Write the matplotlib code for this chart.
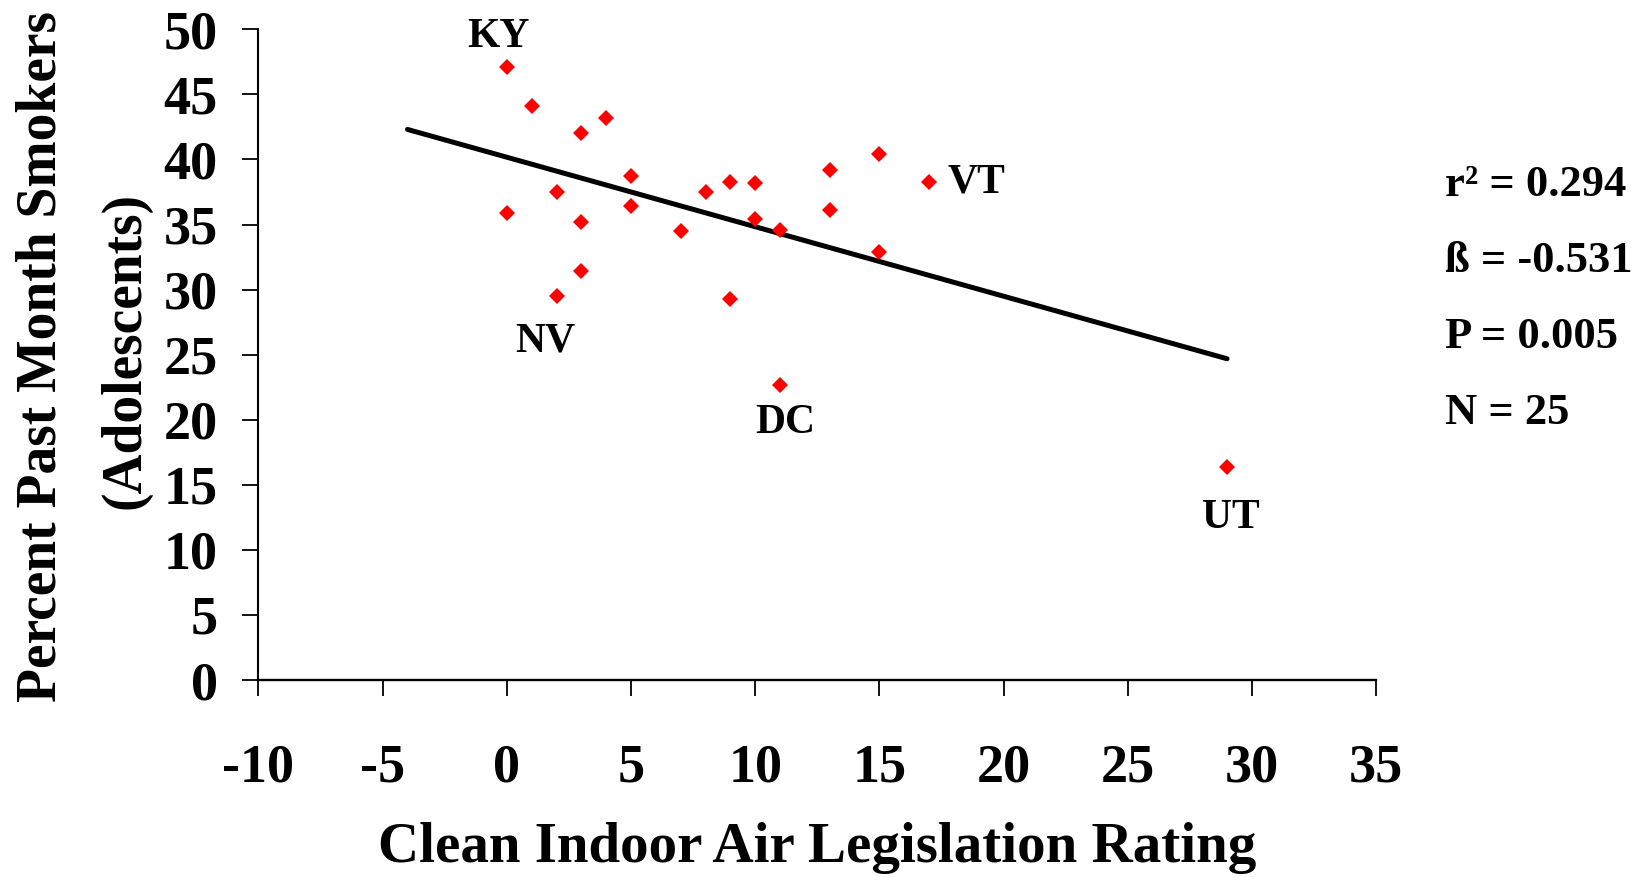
import numpy as np
import matplotlib
matplotlib.use("Agg")
import matplotlib.pyplot as plt

plt.rcParams['font.family'] = ['Liberation Serif', 'DejaVu Serif']
plt.rcParams['font.weight'] = 'bold'
plt.rcParams['axes.unicode_minus'] = False

# clean indoor air legislation rating (x) vs percent past month smokers (y)
rating = [0, 0, 1, 2, 2, 3, 3, 3, 4, 5, 5, 7, 8, 9, 9, 10, 10, 11, 11, 13, 13, 15, 15, 17, 29]
smokers = [47.1, 35.9, 44.1, 37.5, 29.5, 42.0, 35.2, 31.4, 43.2, 38.7, 36.4, 34.5, 37.5,
           38.3, 29.3, 38.2, 35.4, 34.6, 22.7, 39.2, 36.1, 40.4, 32.9, 38.3, 16.4]

# labelled states: index into the arrays above
state_names = ['KY', 'NV', 'VT', 'DC', 'UT']
state_idx = [0, 4, 23, 18, 24]
state_offsets = [(-8, 30), (-11, -45), (47, -1), (5, -38), (4, -51)]  # pixels

stats_lines = ['r² = 0.294', 'ß = -0.531', 'P = 0.005', 'N = 25']
ylabel_lines = ['Percent Past Month Smokers', '(Adolescents)']

x = np.array(rating, dtype=float)
y = np.array(smokers)
slope, intercept = np.polyfit(x, y, 1)
fit_x = np.array([-4, 29])
fit_y = slope * fit_x + intercept

W, H = 1637, 877
fig = plt.figure(figsize=(W / 100, H / 100), dpi=100)
ax = fig.add_axes([0.1579, 0.2246, 0.8406 - 0.1579, 0.9666 - 0.2246])

ax.plot(fit_x, fit_y, color='black', lw=3.6, solid_capstyle='round', zorder=2)
ax.plot(x, y, linestyle='none', marker='D', ms=7.8, mew=0, color='#ff0000', zorder=3)

for name, i, off in zip(state_names, state_idx, state_offsets):
    ax.annotate(name, (x[i], y[i]), xytext=off, textcoords='offset pixels',
                ha='center', va='center', fontsize=30, fontweight='bold')

ax.set_xlim(-10, 35)
ax.set_ylim(0, 50)
ax.set_xticks(np.arange(-10, 36, 5))
ax.set_yticks(np.arange(0, 51, 5))

for s in ['top', 'right']:
    ax.spines[s].set_visible(False)
ax.spines['left'].set_linewidth(1.5)
ax.spines['bottom'].set_linewidth(1.7)
ax.tick_params(axis='both', direction='out', length=11.5, width=1.3, labelsize=39)
ax.tick_params(axis='x', pad=34)
ax.tick_params(axis='y', pad=18)

ax.set_xlabel('Clean Indoor Air Legislation Rating', fontsize=41, fontweight='bold', labelpad=21)

# two-line y label, placed by hand
fig.text(42 / W, 1 - 357 / H, ylabel_lines[0], rotation=90, fontsize=40, fontweight='bold',
         ha='center', va='center')
fig.text(125 / W, 1 - 350 / H, ylabel_lines[1], rotation=90, fontsize=40, fontweight='bold',
         ha='center', va='center')

for k, line in enumerate(stats_lines):
    fig.text(1445 / W, 1 - (185 + 76 * k) / H, line, fontsize=32, fontweight='bold',
             ha='left', va='center')

fig.savefig('out.png', dpi=100)
